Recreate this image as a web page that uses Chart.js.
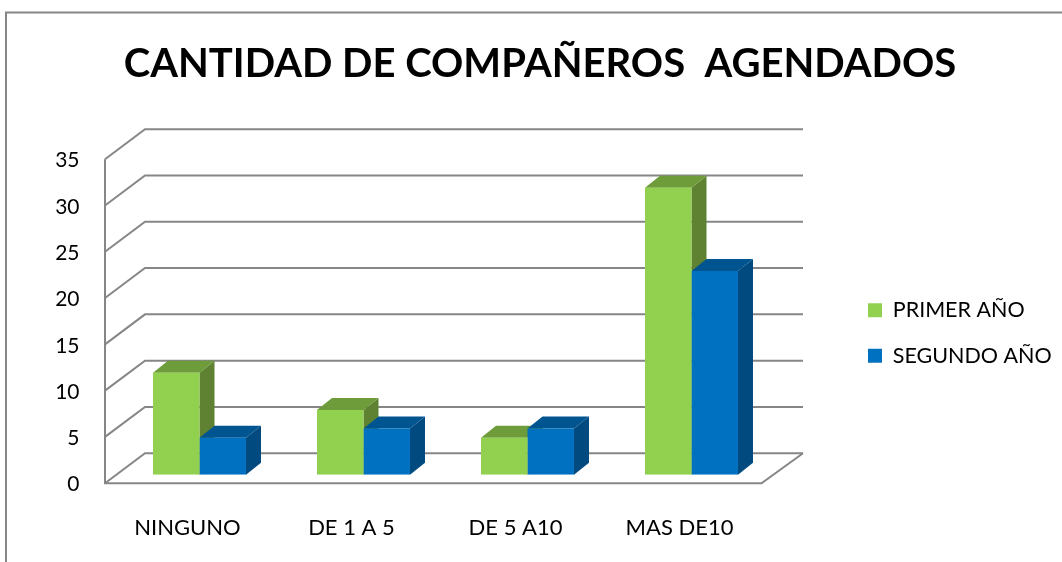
<!DOCTYPE html>
<html>
<head>
<meta charset="utf-8">
<title>Cantidad de compañeros agendados</title>
<script src="https://cdn.jsdelivr.net/npm/chart.js@4"></script>
<style>
  html, body { margin: 0; padding: 0; background: #fff; }
  canvas { display: block; }
</style>
</head>
<body>
<canvas id="chart" width="1062" height="562"></canvas>
<script>
var chartTitle = 'CANTIDAD DE COMPAÑEROS  AGENDADOS';
var categories = ['NINGUNO', 'DE 1 A 5', 'DE 5 A10', 'MAS DE10'];
var primerAno = [11, 7, 4, 31];
var segundoAno = [4, 5, 5, 22];
var yMax = 35;
var yStep = 5;

var GREY = '#868686';
var faces = [
  { front: '#92D050', top: '#6E9C3A', side: '#5E8232' },
  { front: '#0070C0', top: '#005590', side: '#004A80' }
];

function poly(ctx, pts, fill) {
  ctx.beginPath();
  ctx.moveTo(pts[0][0], pts[0][1]);
  for (var i = 1; i < pts.length; i++) ctx.lineTo(pts[i][0], pts[i][1]);
  ctx.closePath();
  ctx.fillStyle = fill;
  ctx.fill();
}

// the 3d look: outer frame, walls and the side/top faces of the bars
var frame3d = {
  id: 'frame3d',
  afterLayout: function(chart) {
    // legend sits lower and further left than the layout would put it
    // (right edge stays put, the legend clips its text to its own box)
    chart.legend.top += 52;
    chart.legend.bottom += 52;
    chart.legend.left -= 44;
  },
  beforeDatasetsDraw: function(chart) {
    var ctx = chart.ctx;
    var xs = chart.scales.x;
    var ys = chart.scales.y;

    ctx.save();
    ctx.strokeStyle = GREY;
    ctx.lineWidth = 2;

    ctx.beginPath();
    ctx.moveTo(6, 562);
    ctx.lineTo(6, 12.5);
    ctx.lineTo(1062, 12.5);
    ctx.stroke();

    var fl = xs.left - 12.5, fr = xs.right - 12;
    var bl = xs.left + 27.5, br = xs.right + 29.5;
    ys.ticks.forEach(function(t) {
      var y = ys.getPixelForValue(t.value);
      ctx.beginPath();
      ctx.moveTo(fl, y + 8.5);
      ctx.lineTo(bl, y - 21.5);
      ctx.lineTo(br, y - 21.5);
      ctx.stroke();
    });

    var y0 = ys.getPixelForValue(0), yTop = ys.getPixelForValue(yMax);
    ctx.beginPath();
    ctx.moveTo(fl, yTop + 8.5);
    ctx.lineTo(fl, y0 + 8.5);
    ctx.lineTo(fr, y0 + 8.5);
    ctx.lineTo(br, y0 - 21.5);
    ctx.stroke();

    var dx = 15, dy = 12;
    chart.data.datasets.forEach(function(ds, i) {
      chart.getDatasetMeta(i).data.forEach(function(bar) {
        var l = bar.x - bar.width / 2, r = bar.x + bar.width / 2;
        poly(ctx, [[r, bar.y], [r + dx, bar.y - dy], [r + dx, bar.base - dy], [r, bar.base]], faces[i].side);
        poly(ctx, [[l, bar.y], [l + dx, bar.y - dy], [r + dx, bar.y - dy], [r, bar.y]], faces[i].top);
      });
    });
    ctx.restore();
  }
};

new Chart(document.getElementById('chart'), {
  type: 'bar',
  data: {
    labels: categories,
    datasets: [
      { label: 'PRIMER AÑO', data: primerAno, backgroundColor: faces[0].front },
      { label: 'SEGUNDO AÑO', data: segundoAno, backgroundColor: faces[1].front }
    ]
  },
  options: {
    responsive: false,
    animation: false,
    categoryPercentage: 0.567,
    barPercentage: 1,
    layout: { padding: { left: 18, right: 0 } },
    scales: {
      x: {
        grid: { display: false },
        border: { display: false },
        ticks: { color: '#000', font: { family: 'Lato', size: 22 }, padding: 32, labelOffset: -12, maxRotation: 0 },
        afterFit: function(s) { s.height = 87.3; }
      },
      y: {
        min: 0,
        max: yMax,
        grid: { display: false, drawTicks: false },
        border: { display: false },
        ticks: { stepSize: yStep, color: '#000', font: { family: 'Lato', size: 21 }, padding: 38, labelOffset: 10 },
        afterFit: function(s) { s.width = 99.5; }
      },
      spacer: {
        position: 'right',
        display: true,
        grid: { display: false, drawTicks: false },
        border: { display: false },
        ticks: { display: false },
        afterFit: function(s) { s.width = 114.5; }
      }
    },
    plugins: {
      title: {
        display: true,
        text: chartTitle,
        color: '#000',
        font: { family: 'Lato', size: 40, weight: 'bold' },
        padding: { top: 40, bottom: 62.7 }
      },
      legend: {
        position: 'right',
        labels: {
          color: '#000',
          boxWidth: 14,
          boxHeight: 14,
          padding: 24,
          font: { family: 'Lato', size: 21.5 }
        }
      },
      tooltip: { enabled: false }
    }
  },
  plugins: [frame3d]
});
</script>
</body>
</html>
